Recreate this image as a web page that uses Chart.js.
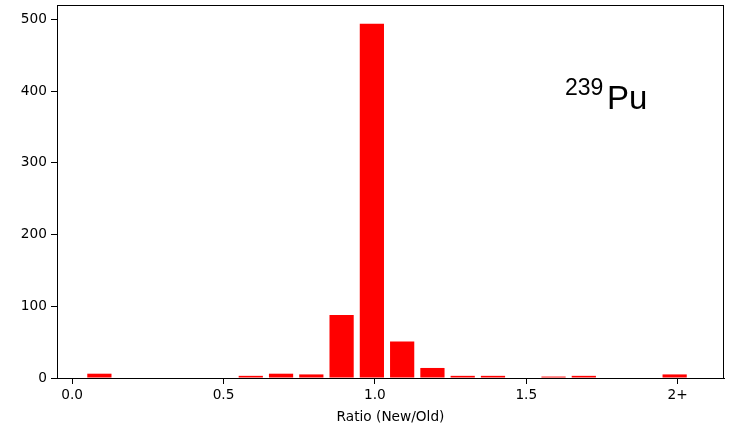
<!DOCTYPE html>
<html>
<head>
<meta charset="utf-8">
<script src="https://cdn.jsdelivr.net/npm/chart.js@4/dist/chart.umd.min.js"></script>
<style>
    body { margin: 0; background: #fff; }
    #wrap { width: 730px; height: 432px; }
</style>
</head>
<body>
<div id="wrap"><canvas id="ratioChart" width="730" height="432"></canvas></div>
<script>
// bin centres (ratio new/old) and counts per bin
var bins = [0.09, 0.19, 0.29, 0.39, 0.49, 0.59, 0.69, 0.79, 0.89, 0.99,
            1.09, 1.19, 1.29, 1.39, 1.49, 1.59, 1.69, 1.79, 1.89, 1.99];
var counts = [6, 0, 0, 0, 0, 3, 6, 5, 88, 494,
              51, 14, 3, 3, 0, 2, 3, 0, 0, 5];

var xTickValues = [0, 0.5, 1.0, 1.5, 2.0];
var xTickLabels = ["0.0", "0.5", "1.0", "1.5", "2+"];
var yTickValues = [0, 100, 200, 300, 400, 500];

var tickFont = { family: "DejaVu Sans", size: 13.7 };

// frame round the plot area + isotope label
var framePlugin = {
    id: 'frame',
    afterDraw: function(chart) {
        var ctx = chart.ctx;
        var a = chart.chartArea;
        ctx.save();
        ctx.strokeStyle = '#000';
        ctx.lineWidth = 1;
        ctx.strokeRect(Math.round(a.left) + 0.5, Math.round(a.top) + 0.5,
                       Math.round(a.right - a.left) - 1, Math.round(a.bottom - a.top));
        ctx.fillStyle = '#000';
        ctx.textBaseline = 'alphabetic';
        ctx.textAlign = 'left';
        ctx.font = '23px "Liberation Sans", Arial, sans-serif';
        ctx.fillText('239', 565, 95);
        ctx.font = '33px "Liberation Sans", Arial, sans-serif';
        ctx.fillText('Pu', 607, 108.5);
        ctx.restore();
    }
};

var ratio = document.getElementById('ratioChart').getContext('2d');
var ratio_chart = new Chart(ratio, {
    type: 'bar',
    data: {
        datasets: [
            {
                label: "Count",
                data: bins.map(function(b, i) { return { x: b, y: counts[i] }; }),
                backgroundColor: "#ff0000",
                borderWidth: 0,
                barPercentage: 0.8,
                categoryPercentage: 1.0
            }
        ]
    },
    options: {
        responsive: false,
        animation: false,
        layout: { padding: { top: 5, right: 6, left: 0, bottom: 0 } },
        plugins: {
            legend: { display: false },
            tooltip: { enabled: false }
        },
        scales: {
            x: {
                type: 'linear',
                offset: false,
                min: -0.05,
                max: 2.153,
                afterBuildTicks: function(axis) {
                    axis.ticks = xTickValues.map(function(v) { return { value: v }; });
                },
                afterFit: function(axis) {
                    axis.height = 54;
                    axis.paddingLeft = 0;
                    axis.paddingRight = 0;
                },
                ticks: {
                    font: tickFont,
                    color: '#000',
                    padding: 3,
                    maxRotation: 0,
                    autoSkip: false,
                    callback: function(value) {
                        var i = xTickValues.indexOf(value);
                        return i >= 0 ? xTickLabels[i] : '';
                    }
                },
                grid: { offset: false, drawOnChartArea: false, drawTicks: true, tickLength: 6, color: '#000' },
                border: { display: true, color: '#000', width: 1 },
                title: {
                    display: true,
                    text: 'Ratio (New/Old)',
                    font: tickFont,
                    color: '#000',
                    padding: { top: 2, bottom: 6 }
                }
            },
            y: {
                min: 0,
                max: 520,
                afterBuildTicks: function(axis) {
                    axis.ticks = yTickValues.map(function(v) { return { value: v }; });
                },
                afterFit: function(axis) {
                    axis.width = 57;
                    axis.paddingTop = 0;
                    axis.paddingBottom = 0;
                },
                ticks: { font: tickFont, color: '#000', padding: 4 },
                grid: { drawOnChartArea: false, drawTicks: true, tickLength: 6, color: '#000' },
                border: { display: true, color: '#000', width: 1 }
            }
        }
    },
    plugins: [framePlugin]
});
</script>
</body>
</html>
